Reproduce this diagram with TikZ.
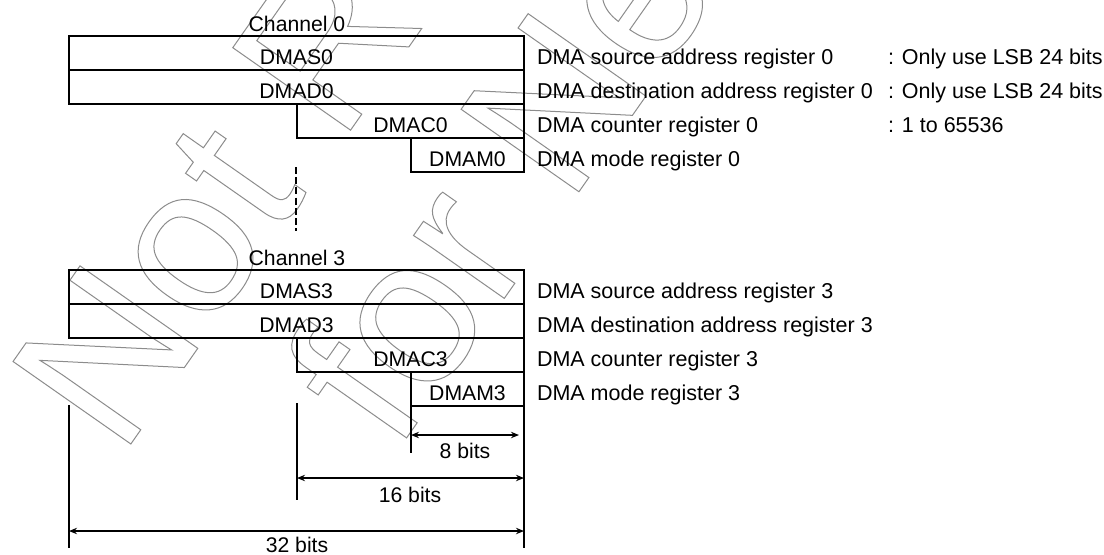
\documentclass[tikz,border=0pt]{standalone}
\usepackage{fontspec}
\setmainfont{Liberation Sans}
\newfontfamily\wmfont{Liberation Sans}
\usetikzlibrary{arrows.meta}
\newcommand\outl[1]{\special{pdf:literal direct 1 Tr 0.5 w}#1\special{pdf:literal direct 0 Tr}}
\begin{document}
\begin{tikzpicture}[x=0.5pt,y=-0.5pt,
  every node/.style={inner sep=0pt,outer sep=0pt},
  txt/.style={font=\fontsize{10.6}{12}\selectfont},
  dtxt/.style={font=\fontsize{10.75}{12}\selectfont},
  reg/.style={txt,draw,line width=0.65pt,minimum height=17pt,text height=14.25pt,text depth=2.75pt,anchor=north west},
  desc/.style={dtxt,anchor=base west},
  lab/.style={txt,anchor=base},
  ext/.style={line width=0.65pt},
  dim/.style={line width=0.65pt,{Stealth[length=4pt,width=3.2pt]}-{Stealth[length=4pt,width=3.2pt]}},
  wm/.style={anchor=base west,rotate=55,text=black!45,font=\wmfont\fontsize{104.5}{112}\selectfont}]
\useasboundingbox (0,0) rectangle (1104,554);
% watermark
\begin{scope}
\clip (0,0) rectangle (1104,554);
\node[wm] (wm1) at (121,458) {\outl{Not Recommended}};
\node[wm] (wm2) at (396,453) {\outl{for New Design}};
\end{scope}
% channel 0
\node[lab] (ch0) at (297,31) {Channel 0};
\node[reg,minimum width=227.5pt] (s0) at (69,36) {DMAS0};
\node[reg,minimum width=227.5pt] (d0) at (69,70) {DMAD0};
\node[reg,minimum width=113.5pt] (c0) at (297,104) {DMAC0};
\node[reg,minimum width=56.5pt] (m0) at (411,138) {DMAM0};
\node[desc] (ts0) at (537,64) {DMA source address register 0};
\node[desc] (td0) at (537,98) {DMA destination address register 0};
\node[desc] (tc0) at (537,132) {DMA counter register 0};
\node[desc] (tm0) at (537,166) {DMA mode register 0};
\node[desc] (ns0) at (888,64) {: Only use LSB 24 bits};
\node[desc] (nd0) at (888,98) {: Only use LSB 24 bits};
\node[desc] (nc0) at (888,132) {: 1 to 65536};
% dots
\coordinate (dt) at (296,167);
\coordinate (db) at (296,231);
\draw[line width=0.6pt,dash pattern=on 3.5pt off 1.6pt] (dt) -- (db);
% channel 3
\node[lab] (ch3) at (297,265) {Channel 3};
\node[reg,minimum width=227.5pt] (s3) at (69,270) {DMAS3};
\node[reg,minimum width=227.5pt] (d3) at (69,304) {DMAD3};
\node[reg,minimum width=113.5pt] (c3) at (297,338) {DMAC3};
\node[reg,minimum width=56.5pt] (m3) at (411,372) {DMAM3};
\node[desc] (ts3) at (537,298) {DMA source address register 3};
\node[desc] (td3) at (537,332) {DMA destination address register 3};
\node[desc] (tc3) at (537,366) {DMA counter register 3};
\node[desc] (tm3) at (537,400) {DMA mode register 3};
% extension lines
\coordinate (e32t) at (69,405);
\coordinate (e32b) at (69,548);
\coordinate (e16t) at (297,403);
\coordinate (e16b) at (297,500);
\coordinate (e8b) at (411,453);
\coordinate (erb) at (524,548);
\draw[ext] (e32t) -- (e32b);
\draw[ext] (e16t) -- (e16b);
\draw[ext] (m3.north west) -- (e8b);
\draw[ext] (m3.south east) -- (erb);
% dimension arrows
\coordinate (a8l) at (411,435);
\coordinate (a8r) at (519,435);
\coordinate (a16l) at (297,478);
\coordinate (a16r) at (524,478);
\coordinate (a32l) at (69,531);
\coordinate (a32r) at (524,531);
\draw[dim] (a8l) -- (a8r);
\draw[dim] (a16l) -- (a16r);
\draw[dim] (a32l) -- (a32r);
\node[lab] (b8) at (465,458) {8 bits};
\node[lab] (b16) at (410,502) {16 bits};
\node[lab] (b32) at (297,552) {32 bits};
\end{tikzpicture}
\end{document}
